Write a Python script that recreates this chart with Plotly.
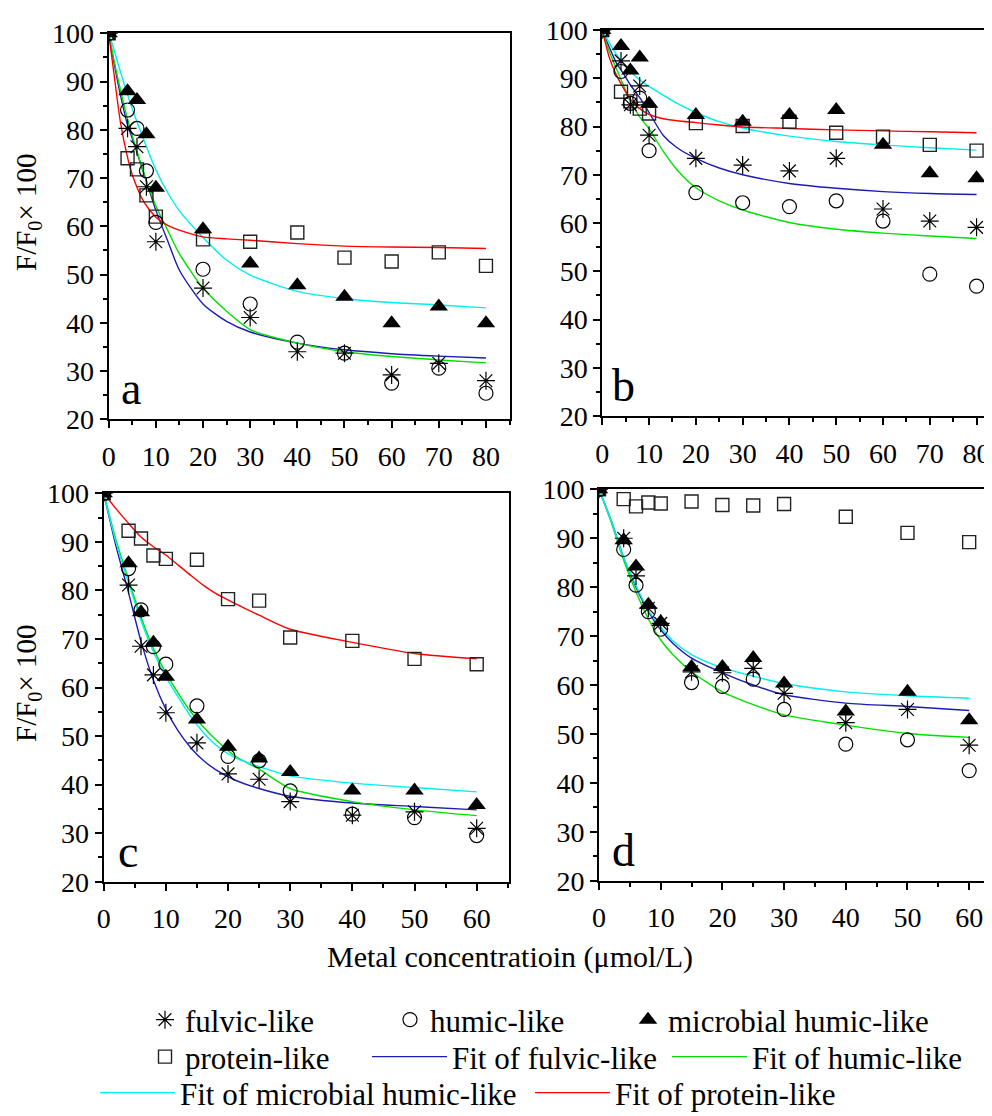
import plotly.graph_objects as go

# ---------------- data ----------------
# panel a
a_x = [0, 4, 6, 8, 10, 20, 30, 40, 50, 60, 70, 80]
a_fulvic = [100, 80.3, 76.5, 68.2, 56.8, 47.2, 41.1, 34.0, 33.7, 29.2, 31.6, 28.0]
a_humic = [100, 84.1, 80.3, 71.5, 60.8, 51.1, 43.9, 36.0, 33.7, 27.5, 30.6, 25.4]
a_microbial = [100, 88.0, 86.2, 79.1, 68.0, 59.4, 52.3, 47.8, 45.4, 39.9, 43.4, 39.9]
a_protein = [100, 74.1, 71.8, 66.4, 62.0, 57.3, 56.8, 58.7, 53.5, 52.7, 54.6, 51.8]
a_fit_x = [0, 1, 2.5, 4, 5, 7.5, 10, 12.5, 15, 20, 25, 30, 40, 50, 60, 70, 80]
a_fit_fulvic = [100, 94.5, 87.2, 81.0, 78.2, 70.8, 63.3, 57.0, 50.9, 43.9, 40.3, 38.1, 35.8, 34.4, 33.6, 33.1, 32.7]
a_fit_humic = [100, 95.0, 88.2, 82.2, 78.8, 70.9, 64.2, 59.2, 54.3, 47.2, 42.4, 38.6, 35.8, 34.0, 33.0, 32.3, 31.7]
a_fit_microbial = [100, 97.0, 92.0, 87.3, 84.3, 77.8, 71.7, 67.0, 63.2, 57.7, 53.0, 49.9, 46.5, 45.0, 44.2, 43.7, 43.1]
a_fit_protein = [100, 92.5, 81.5, 74.3, 70.7, 65.0, 61.9, 60.2, 59.2, 57.8, 57.4, 57.1, 56.4, 55.9, 55.7, 55.6, 55.4]

# panel b
b_x = [0, 4, 6, 8, 10, 20, 30, 40, 50, 60, 70, 80]
b_fulvic = [100, 93.6, 84.5, 88.4, 78.2, 73.4, 72.0, 70.8, 73.4, 62.9, 60.4, 59.1]
b_humic = [100, 91.4, 84.8, 85.9, 75.0, 66.3, 64.2, 63.4, 64.6, 60.4, 49.4, 46.9]
b_microbial = [100, 96.7, 91.6, 94.3, 84.7, 82.4, 81.0, 82.4, 83.4, 76.2, 70.3, 69.3]
b_protein = [100, 87.2, 85.2, 83.7, 82.7, 80.7, 80.1, 81.0, 78.7, 77.9, 76.2, 75.0]
b_fit_x = [0, 1.5, 3, 4.5, 6, 8, 10, 13, 16, 20, 25, 30, 40, 50, 60, 70, 80]
b_fit_fulvic = [100, 96.4, 93.2, 91.0, 88.6, 86.0, 82.9, 78.2, 75.6, 73.4, 71.4, 70.0, 68.2, 67.2, 66.5, 66.1, 65.9]
b_fit_humic = [100, 95.5, 92.0, 88.6, 85.2, 82.0, 79.5, 74.9, 71.0, 67.3, 64.6, 62.7, 60.1, 58.7, 57.9, 57.3, 56.8]
b_fit_microbial = [100, 97.3, 95.0, 93.0, 91.4, 89.7, 88.3, 86.5, 84.8, 82.9, 81.0, 79.7, 78.0, 76.9, 76.2, 75.6, 75.1]
b_fit_protein = [100, 94.3, 90.7, 88.0, 85.6, 83.7, 82.5, 81.6, 81.2, 80.8, 80.3, 79.9, 79.6, 79.3, 79.1, 78.9, 78.7]

# panel c
c_x = [0, 4, 6, 8, 10, 15, 20, 25, 30, 40, 50, 60]
c_fulvic = [100, 81.1, 68.5, 62.6, 54.8, 48.6, 42.2, 41.1, 36.5, 33.7, 34.4, 31.0]
c_humic = [100, 84.5, 76.0, 68.4, 64.8, 56.2, 45.8, 44.9, 38.7, 33.9, 33.2, 29.5]
c_microbial = [100, 85.6, 75.5, 69.2, 62.2, 53.4, 47.8, 45.4, 42.6, 38.8, 38.8, 35.8]
c_protein = [100, 92.3, 90.7, 87.2, 86.5, 86.3, 78.2, 77.9, 70.3, 69.6, 65.9, 64.8]
c_fit_x = [0, 2, 4, 6, 8, 10, 12, 14, 16, 18, 21, 25, 30, 40, 50, 60]
c_fit_fulvic = [100, 89.0, 79.5, 69.5, 61.5, 55.5, 51.0, 47.6, 45.0, 43.1, 41.0, 39.2, 37.6, 36.2, 35.5, 34.8]
c_fit_humic = [100, 90.3, 82.2, 74.5, 68.0, 63.0, 58.8, 55.0, 51.9, 49.3, 46.0, 43.2, 39.2, 36.5, 34.8, 33.6]
c_fit_microbial = [100, 89.8, 81.5, 73.8, 67.3, 62.2, 58.0, 54.0, 50.8, 48.2, 45.6, 43.7, 41.8, 40.3, 39.4, 38.5]
c_fit_protein = [100, 96.8, 93.8, 91.0, 89.0, 87.3, 85.2, 83.1, 81.1, 79.4, 77.4, 74.9, 72.0, 69.3, 67.0, 65.9]

# panel d
d_x = [0, 4, 6, 8, 10, 15, 20, 25, 30, 40, 50, 60]
d_fulvic = [100, 90.0, 82.3, 75.7, 72.6, 62.7, 62.5, 63.4, 58.3, 52.3, 55.0, 47.7]
d_humic = [100, 87.7, 80.4, 75.0, 71.4, 60.5, 59.7, 61.2, 55.0, 47.9, 48.8, 42.5]
d_microbial = [100, 89.6, 84.2, 76.4, 72.9, 63.7, 63.7, 65.5, 60.3, 54.6, 58.6, 52.8]
d_protein = [100, 98.0, 96.5, 97.3, 97.1, 97.5, 96.8, 96.7, 97.0, 94.4, 91.1, 89.2]
d_fit_x = [0, 2, 4, 6, 8, 10, 12, 15, 20, 25, 30, 40, 50, 60]
d_fit_fulvic = [100, 93.5, 86.0, 80.0, 75.0, 71.3, 68.5, 65.5, 62.5, 60.0, 58.0, 56.3, 55.6, 54.8]
d_fit_humic = [100, 93.2, 85.5, 79.0, 73.5, 69.2, 66.2, 62.7, 58.6, 56.0, 53.9, 51.8, 50.1, 49.3]
d_fit_microbial = [100, 93.5, 86.0, 80.3, 75.3, 71.8, 69.0, 66.2, 63.5, 61.8, 60.3, 58.6, 57.8, 57.3]

panel_labels = ["a", "b", "c", "d"]
x_title = "Metal concentratioin (μmol/L)"
y_title = "F/F<sub>0</sub>× 100"

# ---------------- styling ----------------
FONT = "Liberation Serif"
C_BLUE = "#1c1cb0"
C_GREEN = "#00e000"
C_CYAN = "#00eeee"
C_RED = "#ff0000"

OFF = 8            # page body margin
W, H = 984, 1108   # figure size so that it fits the window with the body margin


def px_x(p):
    return (p - OFF) / W


def px_y(p):
    return 1 - (p - OFF) / H


panels = [
    dict(ax="", x=a_x, fu=a_fulvic, hu=a_humic, mi=a_microbial, pr=a_protein,
         fx=a_fit_x, ffu=a_fit_fulvic, fhu=a_fit_humic, fmi=a_fit_microbial, fpr=a_fit_protein,
         xdom=[px_x(108.7), px_x(510)], ydom=[px_y(419.3), px_y(33.3)], xr=[0, 85.1], right=True),
    dict(ax="2", x=b_x, fu=b_fulvic, hu=b_humic, mi=b_microbial, pr=b_protein,
         fx=b_fit_x, ffu=b_fit_fulvic, fhu=b_fit_humic, fmi=b_fit_microbial, fpr=b_fit_protein,
         xdom=[px_x(602.3), 1.0], ydom=[px_y(416), px_y(30)], xr=[0, 83.3], right=False),
    dict(ax="3", x=c_x, fu=c_fulvic, hu=c_humic, mi=c_microbial, pr=c_protein,
         fx=c_fit_x, ffu=c_fit_fulvic, fhu=c_fit_humic, fmi=c_fit_microbial, fpr=c_fit_protein,
         xdom=[px_x(103.7), px_x(509)], ydom=[px_y(881.7), px_y(493.3)], xr=[0, 65.2], right=True),
    dict(ax="4", x=d_x, fu=d_fulvic, hu=d_humic, mi=d_microbial, pr=d_protein,
         fx=d_fit_x, ffu=d_fit_fulvic, fhu=d_fit_humic, fmi=d_fit_microbial, fpr=None,
         xdom=[px_x(599), 1.0], ydom=[px_y(880.7), px_y(489.3)], xr=[0, 63.7], right=False),
]

fig = go.Figure()

legend_names = {
    "fu": ("fulvic-like", "legend"),
    "hu": ("humic-like", "legend2"),
    "mi": ("microbial humic-like", "legend3"),
    "pr": ("protein-like", "legend4"),
    "ffu": ("Fit of fulvic-like", "legend5"),
    "fhu": ("Fit of humic-like", "legend6"),
    "fmi": ("Fit of microbial humic-like", "legend7"),
    "fpr": ("Fit of protein-like", "legend8"),
}

for i, p in enumerate(panels):
    xa = "x" + p["ax"]
    ya = "y" + p["ax"]
    first = i == 0
    for key, col in [("ffu", C_BLUE), ("fhu", C_GREEN), ("fmi", C_CYAN), ("fpr", C_RED)]:
        if p[key] is None:
            continue
        name, lg = legend_names[key]
        fig.add_trace(go.Scatter(
            x=p["fx"], y=p[key], mode="lines", name=name, legend=lg,
            legendgroup=key, showlegend=first,
            line=dict(color=col, width=1.4, shape="spline", smoothing=0.7),
            xaxis=xa, yaxis=ya))
    marker_defs = [
        ("pr", dict(symbol="square-open", size=13, color="#222222", line=dict(width=1.4, color="#222222"))),
        ("hu", dict(symbol="circle-open", size=14, color="black", line=dict(width=1.2, color="black"))),
        ("mi", dict(symbol="triangle-up", size=16, color="black", line=dict(width=0))),
        ("fu", dict(symbol="asterisk-open", size=15, color="black", line=dict(width=1.2, color="black"))),
    ]
    for key, mk in marker_defs:
        name, lg = legend_names[key]
        fig.add_trace(go.Scatter(
            x=p["x"], y=p[key], mode="markers", name=name, legend=lg,
            legendgroup=key, showlegend=first, marker=mk, cliponaxis=True,
            xaxis=xa, yaxis=ya))

axis_common = dict(
    showline=True, linecolor="black", linewidth=2, showgrid=False, zeroline=False,
    ticks="outside", ticklen=7, tickwidth=2, tickcolor="black",
    tickfont=dict(family=FONT, size=28, color="black"),
)

layout = dict(
    width=W, height=H, margin=dict(l=0, r=0, t=0, b=0, autoexpand=False),
    paper_bgcolor="white", plot_bgcolor="white",
    font=dict(family=FONT, color="black"),
)

overlay_idx = 5
for i, p in enumerate(panels):
    ax = p["ax"]
    layout["xaxis" + ax] = dict(axis_common, domain=p["xdom"], range=p["xr"], anchor="y" + ax,
                                tick0=0, dtick=10, mirror=True, ticklabelstandoff=4,
                                minor=dict(dtick=5, tick0=0, ticks="outside", ticklen=4,
                                           tickwidth=2, tickcolor="black"))
    layout["yaxis" + ax] = dict(axis_common, domain=p["ydom"], range=[20, 100], anchor="x" + ax,
                                tick0=20, dtick=10, mirror=p["right"],
                                minor=dict(dtick=5, tick0=0, ticks="outside", ticklen=4,
                                           tickwidth=2, tickcolor="black"))
    # inward ticks on the top border (and right border where it is visible)
    layout["xaxis%d" % overlay_idx] = dict(
        overlaying="x" + ax, anchor="y" + ax, side="top", range=p["xr"], tick0=0, dtick=5,
        ticks="inside", ticklen=3, tickwidth=2, tickcolor="black", showticklabels=False,
        showline=False, showgrid=False, zeroline=False)
    if p["right"]:
        layout["yaxis%d" % overlay_idx] = dict(
            overlaying="y" + ax, anchor="x" + ax, side="right", range=[20, 100], tick0=20, dtick=5,
            ticks="inside", ticklen=3, tickwidth=2, tickcolor="black", showticklabels=False,
            showline=False, showgrid=False, zeroline=False)
    overlay_idx += 1

# legends: one item each, placed in three rows (text start positions from the reference)
leg_font = dict(family=FONT, size=31, color="black")
row_y = [px_y(1020), px_y(1057), px_y(1093)]
leg_pos = {
    "legend": (185, 0, 30), "legend2": (430, 0, 30), "legend3": (668, 0, 30),
    "legend4": (185, 1, 30), "legend5": (452, 1, 75), "legend6": (752, 1, 75),
    "legend7": (180, 2, 75), "legend8": (615, 2, 75),
}
for lg, (tx, row, iw) in leg_pos.items():
    layout[lg] = dict(x=px_x(tx - iw - 10), y=row_y[row], xanchor="left", yanchor="middle",
                      orientation="h", font=leg_font, bgcolor="rgba(0,0,0,0)",
                      borderwidth=0, itemwidth=iw, tracegroupgap=0)

annotations = []
label_pos = [("a", "x", "y", 4.7), ("b", "x2", "y2", 4.5), ("c", "x3", "y3", 3.9), ("d", "x4", "y4", 3.9)]
for (lab, xr_, yr_, xv) in label_pos:
    annotations.append(dict(text=lab, x=xv, y=20.6, xref=xr_, yref=yr_, xanchor="center",
                            yanchor="bottom", showarrow=False,
                            font=dict(family=FONT, size=46, color="black")))
for yc in (212, 683):
    annotations.append(dict(text=y_title, x=0, y=px_y(yc), xref="paper", yref="paper",
                            textangle=-90, showarrow=False, xanchor="left", yanchor="middle",
                            font=dict(family=FONT, size=29, color="black")))
annotations.append(dict(text=x_title, x=px_x(510), y=px_y(957), xref="paper", yref="paper",
                        showarrow=False, xanchor="center", yanchor="middle",
                        font=dict(family=FONT, size=30, color="black")))
layout["annotations"] = annotations

fig.update_layout(**layout)
fig.write_html("out.html")
